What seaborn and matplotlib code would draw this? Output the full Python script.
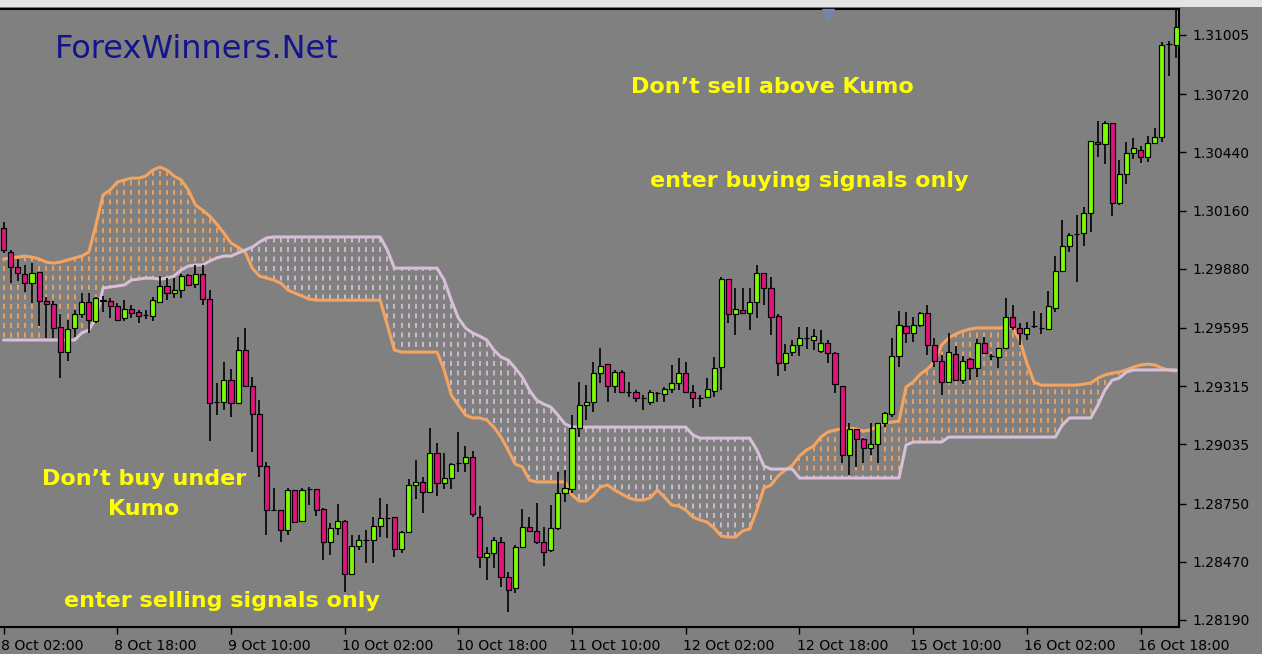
import matplotlib
matplotlib.use("Agg")
import matplotlib.pyplot as plt
import matplotlib.transforms as mtransforms
from matplotlib.patches import Rectangle
import numpy as np
import pandas as pd
import seaborn as sns

# ---- data (EURUSD H1, Ichimoku) ----
time_labels = ["8 Oct 02:00", "8 Oct 18:00", "9 Oct 10:00", "10 Oct 02:00", "10 Oct 18:00",
               "11 Oct 10:00", "12 Oct 02:00", "12 Oct 18:00", "15 Oct 10:00", "16 Oct 02:00",
               "16 Oct 18:00"]
label_bars = [0, 16, 32, 48, 64, 80, 96, 112, 128, 144, 160]
price_ticks = [1.31005, 1.30720, 1.30440, 1.30160, 1.29880, 1.29595,
               1.29315, 1.29035, 1.28750, 1.28470, 1.28190]

open_ = [
    1.30076, 1.29960, 1.29888, 1.29855, 1.29811, 1.29864, 1.29725, 1.29710, 1.29600, 1.29479,
    1.29595, 1.29662, 1.29720, 1.29628, 1.29725, 1.29725, 1.29701, 1.29643, 1.29686, 1.29672,
    1.29657, 1.29652, 1.29720, 1.29797, 1.29763, 1.29778, 1.29850, 1.29806, 1.29855, 1.29734,
    1.29239, 1.29239, 1.29344, 1.29234, 1.29489, 1.29316, 1.29181, 1.28931, 1.28719, 1.28719,
    1.28623, 1.28815, 1.28666, 1.28820, 1.28820, 1.28724, 1.28565, 1.28632, 1.28666, 1.28411,
    1.28546, 1.28574, 1.28574, 1.28642, 1.28680, 1.28685, 1.28531, 1.28613, 1.28839, 1.28854,
    1.28806, 1.28993, 1.28849, 1.28873, 1.28945, 1.28945, 1.28974, 1.28685, 1.28493, 1.28512,
    1.28565, 1.28396, 1.28343, 1.28541, 1.28637, 1.28618, 1.28565, 1.28526, 1.28632, 1.28801,
    1.28820, 1.29114, 1.29224, 1.29239, 1.29378, 1.29421, 1.29316, 1.29383, 1.29287, 1.29287,
    1.29258, 1.29239, 1.29282, 1.29277, 1.29301, 1.29330, 1.29378, 1.29287, 1.29258, 1.29263,
    1.29291, 1.29407, 1.29830, 1.29662, 1.29681, 1.29667, 1.29720, 1.29859, 1.29787, 1.29652,
    1.29426, 1.29479, 1.29513, 1.29547, 1.29537, 1.29484, 1.29523, 1.29474, 1.29316, 1.28984,
    1.29109, 1.29061, 1.29017, 1.29037, 1.29138, 1.29181, 1.29460, 1.29604, 1.29571, 1.29609,
    1.29667, 1.29513, 1.29436, 1.29335, 1.29470, 1.29344, 1.29446, 1.29402, 1.29523, 1.29460,
    1.29455, 1.29498, 1.29648, 1.29595, 1.29566, 1.29604, 1.29595, 1.29590, 1.29691, 1.29869,
    1.29989, 1.30047, 1.30052, 1.30148, 1.30490, 1.30480, 1.30581, 1.30196, 1.30336, 1.30437,
    1.30451, 1.30418, 1.30485, 1.30514, 1.30961, 1.30957,
]
high_ = [
    1.30105, 1.29970, 1.29927, 1.29898, 1.29907, 1.29864, 1.29744, 1.29725, 1.29662, 1.29633,
    1.29681, 1.29763, 1.29763, 1.29744, 1.29749, 1.29739, 1.29715, 1.29729, 1.29705, 1.29681,
    1.29681, 1.29744, 1.29845, 1.29835, 1.29835, 1.29855, 1.29855, 1.29898, 1.29898, 1.29778,
    1.29330, 1.29431, 1.29397, 1.29551, 1.29595, 1.29359, 1.29248, 1.28950, 1.28825, 1.28719,
    1.28825, 1.28815, 1.28825, 1.28830, 1.28820, 1.28728, 1.28656, 1.28748, 1.28671, 1.28599,
    1.28599, 1.28623, 1.28685, 1.28777, 1.28748, 1.28685, 1.28618, 1.28868, 1.28959, 1.28878,
    1.29114, 1.29041, 1.28993, 1.28945, 1.29094, 1.29027, 1.29003, 1.28738, 1.28541, 1.28589,
    1.28589, 1.28420, 1.28550, 1.28724, 1.28685, 1.28753, 1.28637, 1.28743, 1.28902, 1.28911,
    1.29176, 1.29335, 1.29320, 1.29431, 1.29498, 1.29421, 1.29393, 1.29393, 1.29335, 1.29296,
    1.29272, 1.29296, 1.29287, 1.29311, 1.29417, 1.29450, 1.29431, 1.29320, 1.29272, 1.29354,
    1.29455, 1.29840, 1.29830, 1.29787, 1.29787, 1.29787, 1.29898, 1.29859, 1.29840, 1.29662,
    1.29518, 1.29537, 1.29600, 1.29600, 1.29590, 1.29585, 1.29537, 1.29479, 1.29316, 1.29138,
    1.29109, 1.29065, 1.29138, 1.29138, 1.29190, 1.29547, 1.29677, 1.29672, 1.29648, 1.29672,
    1.29705, 1.29547, 1.29465, 1.29571, 1.29508, 1.29460, 1.29450, 1.29542, 1.29551, 1.29470,
    1.29498, 1.29739, 1.29705, 1.29619, 1.29624, 1.29677, 1.29667, 1.29773, 1.29941, 1.30114,
    1.30052, 1.30138, 1.30177, 1.30495, 1.30591, 1.30591, 1.30581, 1.30403, 1.30490, 1.30509,
    1.30470, 1.30519, 1.30557, 1.30971, 1.30976, 1.31125,
]
low_ = [
    1.29956, 1.29811, 1.29821, 1.29768, 1.29715, 1.29604, 1.29547, 1.29547, 1.29354, 1.29436,
    1.29551, 1.29643, 1.29571, 1.29619, 1.29672, 1.29643, 1.29628, 1.29628, 1.29643, 1.29619,
    1.29638, 1.29628, 1.29715, 1.29729, 1.29739, 1.29739, 1.29802, 1.29787, 1.29705, 1.29051,
    1.29176, 1.29200, 1.29166, 1.29234, 1.29316, 1.28998, 1.28878, 1.28599, 1.28714, 1.28565,
    1.28599, 1.28656, 1.28661, 1.28743, 1.28690, 1.28478, 1.28502, 1.28599, 1.28324, 1.28406,
    1.28526, 1.28464, 1.28464, 1.28589, 1.28584, 1.28493, 1.28512, 1.28613, 1.28772, 1.28704,
    1.28806, 1.28786, 1.28820, 1.28820, 1.28902, 1.28902, 1.28685, 1.28440, 1.28382, 1.28440,
    1.28348, 1.28228, 1.28319, 1.28536, 1.28613, 1.28555, 1.28449, 1.28517, 1.28623, 1.28757,
    1.28801, 1.29070, 1.29152, 1.29190, 1.29330, 1.29239, 1.29282, 1.29287, 1.29263, 1.29239,
    1.29200, 1.29224, 1.29239, 1.29239, 1.29282, 1.29296, 1.29287, 1.29210, 1.29215, 1.29258,
    1.29263, 1.29296, 1.29619, 1.29561, 1.29667, 1.29585, 1.29643, 1.29705, 1.29561, 1.29364,
    1.29388, 1.29460, 1.29460, 1.29494, 1.29489, 1.29474, 1.29426, 1.29282, 1.28945, 1.28887,
    1.28926, 1.28945, 1.28984, 1.28945, 1.29118, 1.29166, 1.29407, 1.29523, 1.29527, 1.29600,
    1.29465, 1.29407, 1.29272, 1.29335, 1.29344, 1.29325, 1.29344, 1.29359, 1.29470, 1.29441,
    1.29402, 1.29498, 1.29585, 1.29513, 1.29537, 1.29595, 1.29566, 1.29585, 1.29672, 1.29869,
    1.29960, 1.29816, 1.29989, 1.30057, 1.30418, 1.30384, 1.30134, 1.30187, 1.30288, 1.30408,
    1.30389, 1.30393, 1.30485, 1.30490, 1.30807, 1.30894,
]
close_ = [
    1.29970, 1.29888, 1.29859, 1.29811, 1.29859, 1.29725, 1.29710, 1.29595, 1.29479, 1.29590,
    1.29662, 1.29720, 1.29633, 1.29739, 1.29729, 1.29701, 1.29633, 1.29686, 1.29667, 1.29652,
    1.29657, 1.29729, 1.29797, 1.29763, 1.29778, 1.29845, 1.29802, 1.29855, 1.29734, 1.29234,
    1.29239, 1.29344, 1.29234, 1.29489, 1.29316, 1.29181, 1.28931, 1.28719, 1.28719, 1.28623,
    1.28815, 1.28661, 1.28815, 1.28820, 1.28719, 1.28565, 1.28632, 1.28666, 1.28411, 1.28546,
    1.28574, 1.28574, 1.28642, 1.28680, 1.28680, 1.28531, 1.28613, 1.28839, 1.28854, 1.28806,
    1.28993, 1.28849, 1.28873, 1.28940, 1.28945, 1.28974, 1.28700, 1.28493, 1.28512, 1.28574,
    1.28396, 1.28334, 1.28541, 1.28637, 1.28618, 1.28565, 1.28517, 1.28632, 1.28801, 1.28825,
    1.29114, 1.29224, 1.29239, 1.29378, 1.29412, 1.29316, 1.29383, 1.29287, 1.29287, 1.29258,
    1.29258, 1.29287, 1.29282, 1.29301, 1.29330, 1.29378, 1.29287, 1.29258, 1.29258, 1.29301,
    1.29402, 1.29830, 1.29662, 1.29686, 1.29667, 1.29720, 1.29859, 1.29787, 1.29648, 1.29426,
    1.29474, 1.29513, 1.29547, 1.29547, 1.29556, 1.29523, 1.29474, 1.29325, 1.28984, 1.29109,
    1.29061, 1.29017, 1.29037, 1.29138, 1.29186, 1.29460, 1.29609, 1.29571, 1.29609, 1.29667,
    1.29513, 1.29436, 1.29335, 1.29479, 1.29344, 1.29436, 1.29402, 1.29523, 1.29474, 1.29460,
    1.29498, 1.29648, 1.29600, 1.29571, 1.29595, 1.29604, 1.29595, 1.29701, 1.29869, 1.29989,
    1.30042, 1.30047, 1.30148, 1.30495, 1.30480, 1.30581, 1.30196, 1.30336, 1.30437, 1.30461,
    1.30418, 1.30485, 1.30514, 1.30957, 1.30961, 1.31043,
]

# Senkou Span A (orange) and Senkou Span B (thistle), one value per bar
span_a = [
    1.29927, 1.29932, 1.29936, 1.29941, 1.29936, 1.29927, 1.29912, 1.29907, 1.29912, 1.29922,
    1.29932, 1.29941, 1.29960, 1.30090, 1.30235, 1.30259, 1.30297, 1.30307, 1.30316, 1.30316,
    1.30326, 1.30355, 1.30369, 1.30355, 1.30326, 1.30307, 1.30259, 1.30187, 1.30162, 1.30134,
    1.30095, 1.30052, 1.30004, 1.29984, 1.29960, 1.29883, 1.29845, 1.29835, 1.29826, 1.29811,
    1.29778, 1.29763, 1.29749, 1.29734, 1.29729, 1.29729, 1.29729, 1.29729, 1.29729, 1.29729,
    1.29729, 1.29729, 1.29729, 1.29729, 1.29609, 1.29489, 1.29479, 1.29479, 1.29479, 1.29479,
    1.29479, 1.29479, 1.29393, 1.29272, 1.29224, 1.29176, 1.29162, 1.29162, 1.29152, 1.29118,
    1.29070, 1.29008, 1.28940, 1.28926, 1.28863, 1.28854, 1.28854, 1.28854, 1.28854, 1.28854,
    1.28791, 1.28762, 1.28762, 1.28791, 1.28830, 1.28839, 1.28815, 1.28796, 1.28777, 1.28767,
    1.28767, 1.28777, 1.28815, 1.28781, 1.28743, 1.28738, 1.28719, 1.28685, 1.28671, 1.28661,
    1.28632, 1.28594, 1.28589, 1.28589, 1.28618, 1.28628, 1.28719, 1.28825, 1.28839, 1.28883,
    1.28911, 1.28935, 1.28979, 1.29008, 1.29027, 1.29070, 1.29094, 1.29104, 1.29109, 1.29114,
    1.29109, 1.29099, 1.29104, 1.29123, 1.29138, 1.29142, 1.29147, 1.29311, 1.29335, 1.29373,
    1.29397, 1.29431, 1.29513, 1.29547, 1.29566, 1.29580, 1.29590, 1.29595, 1.29595, 1.29595,
    1.29595, 1.29595, 1.29595, 1.29537, 1.29426, 1.29335, 1.29320, 1.29320, 1.29320, 1.29320,
    1.29320, 1.29320, 1.29325, 1.29330, 1.29354, 1.29369, 1.29378, 1.29383, 1.29393, 1.29407,
    1.29417, 1.29421, 1.29417, 1.29402, 1.29393, 1.29388,
]
span_b = [
    1.29537, 1.29537, 1.29537, 1.29537, 1.29537, 1.29537, 1.29537, 1.29537, 1.29537, 1.29537,
    1.29537, 1.29571, 1.29585, 1.29643, 1.29787, 1.29792, 1.29797, 1.29802, 1.29826, 1.29830,
    1.29835, 1.29835, 1.29830, 1.29835, 1.29845, 1.29874, 1.29893, 1.29898, 1.29898, 1.29917,
    1.29932, 1.29941, 1.29941, 1.29956, 1.29970, 1.29984, 1.30008, 1.30028, 1.30033, 1.30033,
    1.30033, 1.30033, 1.30033, 1.30033, 1.30033, 1.30033, 1.30033, 1.30033, 1.30033, 1.30033,
    1.30033, 1.30033, 1.30033, 1.30033, 1.29970, 1.29883, 1.29883, 1.29883, 1.29883, 1.29883,
    1.29883, 1.29883, 1.29826, 1.29729, 1.29643, 1.29595, 1.29571, 1.29556, 1.29537, 1.29489,
    1.29455, 1.29441, 1.29402, 1.29359, 1.29296, 1.29248, 1.29229, 1.29215, 1.29176, 1.29133,
    1.29118, 1.29118, 1.29118, 1.29118, 1.29118, 1.29118, 1.29118, 1.29118, 1.29118, 1.29118,
    1.29118, 1.29118, 1.29118, 1.29118, 1.29118, 1.29118, 1.29118, 1.29080, 1.29065, 1.29065,
    1.29065, 1.29065, 1.29065, 1.29065, 1.29065, 1.29065, 1.29008, 1.28931, 1.28916, 1.28916,
    1.28916, 1.28916, 1.28873, 1.28873, 1.28873, 1.28873, 1.28873, 1.28873, 1.28873, 1.28873,
    1.28873, 1.28873, 1.28873, 1.28873, 1.28873, 1.28873, 1.28873, 1.29032, 1.29046, 1.29046,
    1.29046, 1.29046, 1.29046, 1.29070, 1.29070, 1.29070, 1.29070, 1.29070, 1.29070, 1.29070,
    1.29070, 1.29070, 1.29070, 1.29070, 1.29070, 1.29070, 1.29070, 1.29070, 1.29070, 1.29128,
    1.29162, 1.29162, 1.29162, 1.29162, 1.29224, 1.29296, 1.29344, 1.29354, 1.29383, 1.29393,
    1.29393, 1.29393, 1.29393, 1.29393, 1.29393, 1.29393,
]

# ---- style ----
sns.set_style("dark")
plt.rcParams["font.family"] = ["DejaVu Sans"]
plt.rcParams["lines.scale_dashes"] = False

BG = "#808080"
ORANGE = "#F4A460"
THISTLE = "#D8BFD8"
BULL = "#7CFC00"
BEAR = "#E0147C"
YELLOW = "#FFFF00"

W, H = 1262, 654
fig = plt.figure(figsize=(W / 100, H / 100), dpi=100, facecolor=BG)
ax = fig.add_axes([0, 27 / H, 1179 / W, 618 / H])
ax.set_facecolor(BG)
ax.grid(False)
ax.set_xlim(-0.5, 165.41)
ax.set_ylim(1.28156, 1.31130)

df = pd.DataFrame({"bar": np.arange(len(close_)), "open": open_, "high": high_,
                   "low": low_, "close": close_, "span_a": span_a, "span_b": span_b})

# kumo: dotted vertical line per bar between the two spans, dots aligned in rows
period, on_px = 9.5, 5.0
for i, a, b in zip(df["bar"], df["span_a"], df["span_b"]):
    top, bot = max(a, b), min(a, b)
    col = ORANGE if a >= b else THISTLE
    ytop = H - ax.transData.transform((i, top))[1]
    phase = ytop % period
    ax.plot([i, i], [top, bot], color=col, lw=1.25, zorder=1,
            ls=(phase * 0.72, (on_px * 0.72, (period - on_px) * 0.72)))

sns.lineplot(data=df, x="bar", y="span_a", ax=ax, color=ORANGE, lw=2.2, zorder=2)
sns.lineplot(data=df, x="bar", y="span_b", ax=ax, color=THISTLE, lw=2.2, zorder=2)

# candles
ax.vlines(df["bar"], df["low"], df["high"], color="black", lw=1.2, zorder=3)
body_colors = [BULL if c > o else BEAR for o, c in zip(df["open"], df["close"])]
ax.bar(df["bar"], df["close"] - df["open"], bottom=df["open"], width=0.72,
       color=body_colors, edgecolor="black", linewidth=0.85, zorder=4)

ax.set_xlabel("")
ax.set_ylabel("")

# axes / ticks
ax.yaxis.tick_right()
ax.set_yticks(price_ticks)
ax.set_yticklabels([f"{p:.5f}" for p in price_ticks])
ax.tick_params(axis="y", direction="out", length=5, width=1, color="black",
               labelcolor="black", labelsize=10, pad=5, right=True, left=False)
ax.set_xticks(label_bars)
ax.set_xticklabels(time_labels, ha="left")
ax.tick_params(axis="x", direction="out", length=5, width=1, color="black",
               labelcolor="black", labelsize=10.2, pad=4, bottom=True)
shift = mtransforms.ScaledTranslation(-2 / 72, 0, fig.dpi_scale_trans)
for lbl in ax.get_xticklabels():
    lbl.set_transform(lbl.get_transform() + shift)

for side in ["top", "right", "bottom"]:
    ax.spines[side].set_visible(True)
    ax.spines[side].set_color("black")
    ax.spines[side].set_linewidth(1.5)
ax.spines["left"].set_visible(False)

# window strip and chart-shift marker
fig.add_artist(Rectangle((0, 1 - 7 / H), 1, 7 / H, transform=fig.transFigure,
                         facecolor="#E4E4E4", edgecolor="none"))
ax.plot([828 / 1179], [0.991], marker="v", ms=8, color="#7486AE",
        transform=ax.transAxes, clip_on=False, zorder=6)

# annotations
fig.text(55 / W, 1 - 50 / H, "ForexWinners.Net", color="#14148C", fontsize=23,
         ha="left", va="center")
fig.text(772 / W, 1 - 87 / H, "Don\u2019t sell above Kumo", color=YELLOW, fontsize=16,
         fontweight="bold", ha="center", va="center")
fig.text(809 / W, 1 - 181 / H, "enter buying signals only", color=YELLOW, fontsize=16,
         fontweight="bold", ha="center", va="center")
fig.text(144 / W, 1 - 494 / H, "Don\u2019t buy under\nKumo", color=YELLOW, fontsize=16,
         fontweight="bold", ha="center", va="center", linespacing=1.6)
fig.text(222 / W, 1 - 601 / H, "enter selling signals only", color=YELLOW, fontsize=16,
         fontweight="bold", ha="center", va="center")

fig.savefig("out.png", dpi=100, facecolor=BG)
